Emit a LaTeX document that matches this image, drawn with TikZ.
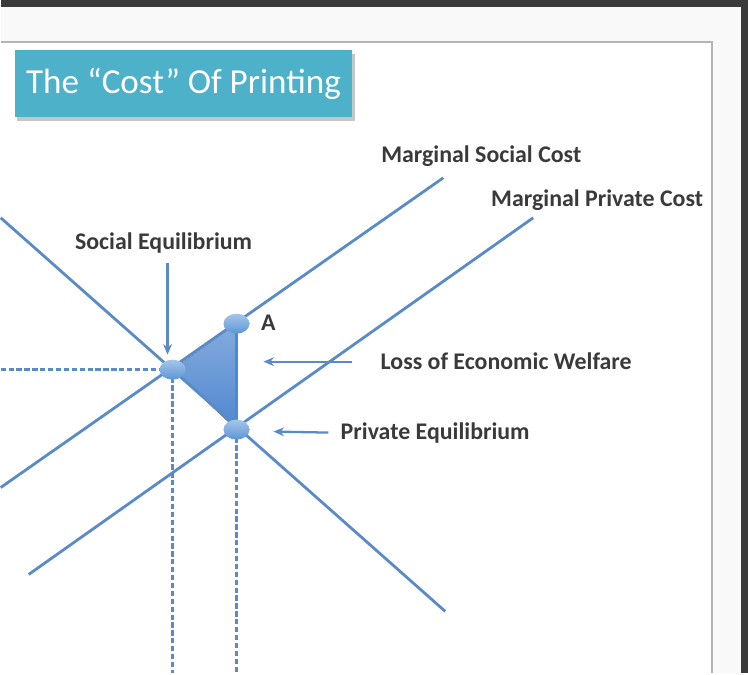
\documentclass[tikz,border=0pt]{standalone}
\usepackage{fontspec}
\setmainfont{Carlito}
\usepackage{xcolor}
\definecolor{curveBlue}{HTML}{5B8BC6}
\definecolor{dotBlue}{HTML}{5C96D6}
\definecolor{areaBlue}{HTML}{4F87D0}
\definecolor{titleCyan}{HTML}{4DB1C9}
\definecolor{textGray}{HTML}{3A3A3A}
\definecolor{frameGray}{HTML}{B4B4B4}
\definecolor{screenDark}{HTML}{3A3A3A}
\usetikzlibrary{shapes.geometric,arrows.meta}

\begin{document}
\begin{tikzpicture}[x=0.02cm, y=-0.02cm,
  curve/.style={curveBlue, line width=1.6pt},
  guide/.style={curveBlue, line width=1.4pt, dash pattern=on 3pt off 1.5pt},
  eqdot/.style={ellipse, minimum width=0.52cm, minimum height=0.4cm, inner sep=0pt,
    top color=dotBlue!55, bottom color=dotBlue, draw=none},
  lbl/.style={textGray, font=\bfseries\fontsize{13.6}{15}\selectfont, inner sep=0pt},
  pointer/.style={curveBlue, line width=1.3pt, -{Stealth[length=6pt, width=5pt]}}]
  % screen and slide
  \fill[screenDark] (0,0) rectangle (748,674);
  \fill[white!95!gray] (0,7) rectangle (741,674);
  \fill[white] (0,42) rectangle (712,674);
  \draw[frameGray, line width=0.8pt] (0,42) -- (712,42) -- (712,674);
  \useasboundingbox (0,0) rectangle (748,674);
  % title
  \fill[gray!45] (16,54) rectangle (355,121);
  \node[fill=titleCyan, minimum width=6.76cm, minimum height=1.34cm, inner sep=0pt,
    text=white, font=\fontsize{20}{22}\selectfont] (title) at (183,83.5) {The “Cost” Of Printing};
  % curve ends
  \coordinate (demlo) at (0,218);
  \coordinate (demhi) at (445,612);
  \coordinate (msclo) at (0,488);
  \coordinate (mschi) at (443,178);
  \coordinate (mpclo) at (28,575);
  \coordinate (mpchi) at (533,218);
  \coordinate (axisy) at (0,370);
  \coordinate (baseS) at (172,674);
  \coordinate (baseP) at (236,674);
  % equilibrium points
  \coordinate (S) at (172,370);
  \coordinate (A) at (236,324);
  \coordinate (P) at (236,430);
  \fill[top color=areaBlue!70, bottom color=areaBlue] (S) -- (A) -- (P) -- cycle;
  \draw[guide] (axisy) -- (S);
  \draw[guide] (S) -- (baseS);
  \draw[guide] (P) -- (baseP);
  \draw[curve] (demlo) -- (demhi);
  \draw[curve] (msclo) -- (mschi);
  \draw[curve] (mpclo) -- (mpchi);
  \draw[areaBlue, line width=2.2pt] (A) -- (P);
  \node[eqdot] (socEq) at (S) {};
  \node[eqdot] (ptA) at (A) {};
  \node[eqdot] (privEq) at (P) {};
  % labels
  \node[lbl] (labA) at (268,323) {A};
  \node[lbl] (mscLabel) at (481,156) {Marginal Social Cost};
  \node[lbl] (mpcLabel) at (597,200) {Marginal Private Cost};
  \node[lbl] (socLabel) at (163,243) {Social Equilibrium};
  \node[lbl, anchor=west] (lossLabel) at (380,362) {Loss of Economic Welfare};
  \node[lbl, anchor=west] (privLabel) at (340,433) {Private Equilibrium};
  \draw[pointer] (socLabel.south) ++(4,10) -- (167,355);
  \draw[pointer] (lossLabel.west) ++(-28,0) -- (263,362);
  \draw[pointer] (privLabel.west) ++(-12,0) -- (273,432);
\end{tikzpicture}
\end{document}
